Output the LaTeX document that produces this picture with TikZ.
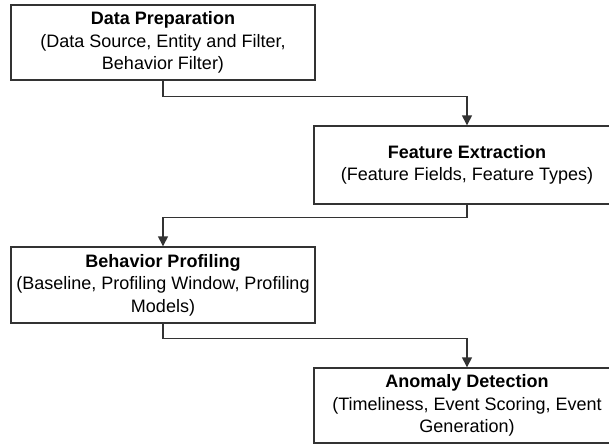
\documentclass[tikz,border=0pt]{standalone}
\usepackage{fontspec}
\setmainfont{Liberation Sans}
\usetikzlibrary{arrows.meta}
\definecolor{edge}{HTML}{333333}
\tikzset{
  box/.style={draw=edge, line width=1.4pt, fill=white, rectangle, align=center, inner sep=0pt,
    font=\fontsize{18}{22.5}\selectfont, text=black},
  conn/.style={draw=edge, line width=1.4pt, -{Triangle[length=10pt,width=10pt]}}
}
\begin{document}
\begin{tikzpicture}[x=1pt,y=-1pt]
\useasboundingbox (0,0) rectangle (609,444);
\clip (0,0) rectangle (609,444);
\fill[white] (0,0) rectangle (609,444);
\node[box, minimum width=304pt, minimum height=75pt] (b1) at (163,42.5)
  {\textbf{Data Preparation}\\(Data Source, Entity and Filter,\\Behavior Filter)};
\node[box, minimum width=306pt, minimum height=78pt] (b2) at (467,165)
  {\textbf{Feature Extraction}\\(Feature Fields, Feature Types)};
\node[box, minimum width=304pt, minimum height=76pt] (b3) at (163,285)
  {\textbf{Behavior Profiling}\\(Baseline, Profiling Window, Profiling\\Models)};
\node[box, minimum width=306pt, minimum height=75pt] (b4) at (467,405.5)
  {\textbf{Anomaly Detection}\\(Timeliness, Event Scoring, Event\\Generation)};
\draw[conn] (b1.south) -- ([yshift=-16pt]b1.south) -| (b2.north);
\draw[conn] (b2.south) -- ([yshift=-13pt]b2.south) -| (b3.north);
\draw[conn] (b3.south) -- ([yshift=-15pt]b3.south) -| (b4.north);
\end{tikzpicture}
\end{document}
